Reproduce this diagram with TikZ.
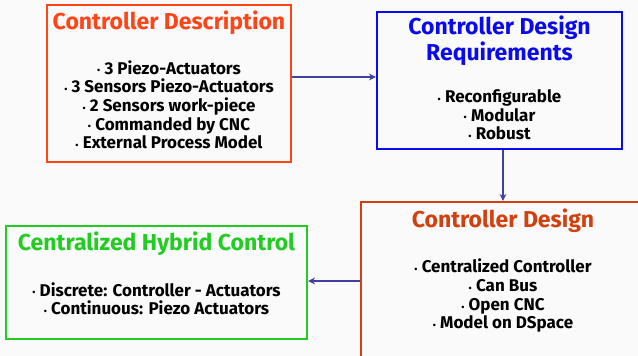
\documentclass[tikz,border=0pt]{standalone}
\usepackage{fontspec}
\setmainfont{Fira Sans}
\usetikzlibrary{arrows.meta, positioning}

\definecolor{descred}{HTML}{FF4518}
\definecolor{reqblue}{HTML}{0A0AF0}
\definecolor{designred}{HTML}{D2400F}
\definecolor{hybridgreen}{HTML}{22CC22}
\definecolor{arrowblue}{HTML}{4040A0}

\newcommand{\itm}{{\fontsize{9}{9}\selectfont\raisebox{0.05ex}{•}}\hspace{0.25em}}

\begin{document}
\begin{tikzpicture}[
        x=1pt, y=1pt,
        box/.style={
            rectangle,
            draw,
            line width=2.2pt,
            inner sep=0pt
        },
        title/.style={
            font=\fontsize{23}{26}\selectfont\bfseries,
            align=center,
            inner sep=0pt
        },
        items/.style={
            font=\fontsize{17}{18.7}\selectfont\bfseries,
            align=center,
            inner sep=0pt
        },
        arrow/.style={
            line width=1.6pt,
            draw=arrowblue,
            -{Stealth[length=7pt, width=7pt]}
        }
    ]
        \fill [black!2] (0,0) rectangle (638,356);
        \useasboundingbox (0,0) rectangle (638,356);
        \clip (0,0) rectangle (638,356);

        \node (desc) [box, draw=descred, minimum width=244, minimum height=157] at (169,272.5) {};
        \node (req) [box, draw=reqblue, minimum width=245, minimum height=137] at (499.5,275.5) {};
        \node (design) [box, draw=designred, minimum width=340, minimum height=200] at (531,54) {};
        \node (hybrid) [box, draw=hybridgreen, minimum width=301, minimum height=113] at (156.5,73.5) {};

        \node (desctitle) [title, text=descred, below=26pt of desc.north, anchor=base] {Controller Description};
        \node (desclist) [items, below=145pt of desc.north, anchor=base] {\itm 3 Piezo-Actuators\\ \itm 3 Sensors Piezo-Actuators\\ \itm 2 Sensors work-piece\\ \itm Commanded by CNC\\ \itm External Process Model};
        \node (reqtitle) [title, text=reqblue, below=50pt of req.north, anchor=base] {Controller Design\\ Requirements};
        \node (reqlist) [items, below=129pt of req.north, anchor=base] {\itm Reconfigurable\\ \itm Modular\\ \itm Robust};
        \node (designtitle) [title, text=designred, anchor=base] at (503,128) {Controller Design};
        \node (designlist) [items, anchor=base] at (503,27) {\itm Centralized Controller\\ \itm Can Bus\\ \itm Open CNC\\ \itm Model on DSpace};
        \node (hybridtitle) [title, text=hybridgreen, below=26pt of hybrid.north, anchor=base] {Centralized Hybrid Control};
        \node (hybridlist) [items, below=90pt of hybrid.north, anchor=base] {\itm Discrete: Controller - Actuators\\ \itm Continuous: Piezo Actuators};

        \draw [arrow] ([yshift=6.5pt]desc.east) -- ([yshift=6.5pt]desc.east -| req.west);
        \draw [arrow] ([xshift=3.5pt]req.south) -- ([xshift=3.5pt]req.south |- design.north);
        \draw [arrow] ([yshift=1.5pt]hybrid.east -| design.west) -- ([yshift=1.5pt]hybrid.east);

    \end{tikzpicture}
\end{document}
